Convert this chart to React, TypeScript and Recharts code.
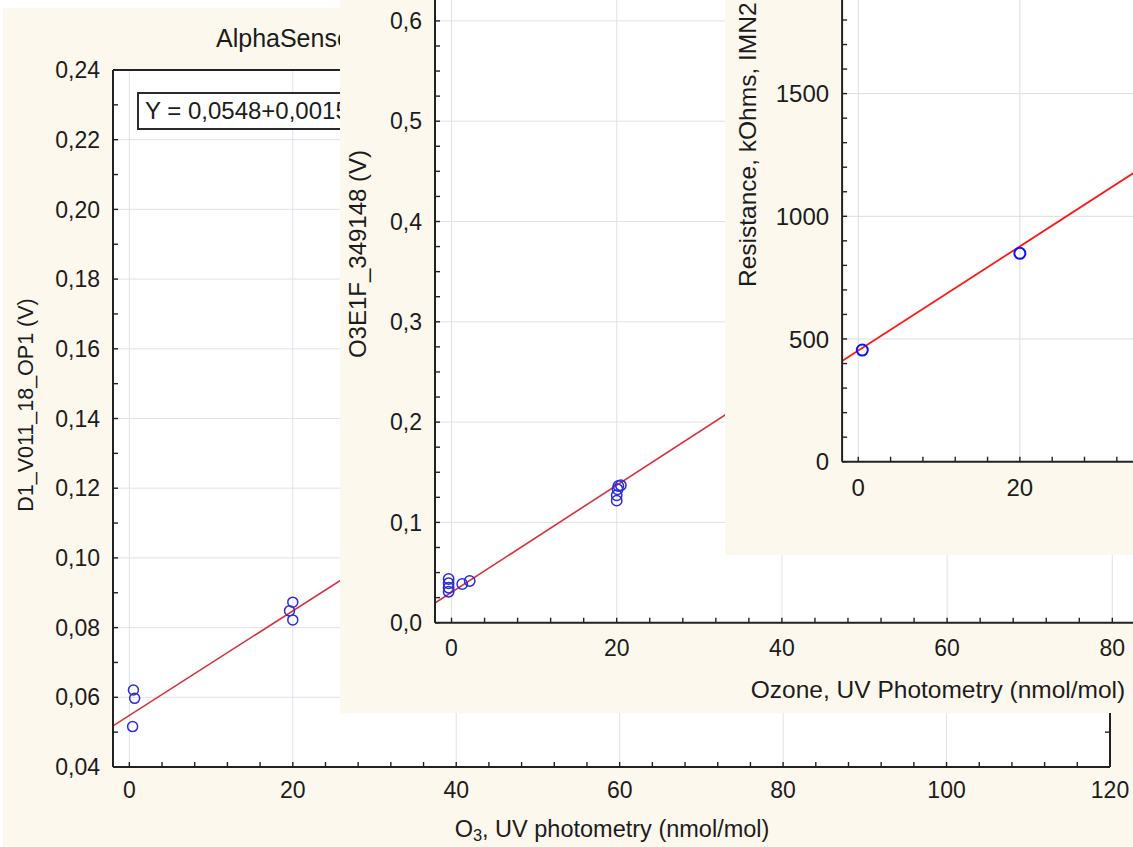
import React from 'react';
import { ScatterChart, Scatter, XAxis, YAxis, CartesianGrid, ReferenceLine } from 'recharts';

const FONT = '"Liberation Sans", Arial, Helvetica, sans-serif';
const CREAM = '#fcf8ed';
const INK = '#1c1c1c';

// ---------- Panel 1: AlphaSense ----------
const p1Title = 'AlphaSense';
const p1Equation = 'Y = 0,0548+0,0015*x';
const p1YLabel = 'D1_V011_18_OP1 (V)';
const p1X = [0.5, 0.65, 0.4, 20.0, 19.6, 20.0];
const p1Y = [0.0621, 0.0597, 0.0516, 0.0873, 0.0848, 0.0822];
const p1FitX = [-2, 120];
const p1FitY = [0.0518, 0.2348];
const p1XMajor = [0, 20, 40, 60, 80, 100, 120];
const p1YMajor = [0.04, 0.06, 0.08, 0.1, 0.12, 0.14, 0.16, 0.18, 0.2, 0.22, 0.24];

// ---------- Panel 2: O3E1F ----------
const p2XLabel = 'Ozone, UV Photometry (nmol/mol)';
const p2YLabel = 'O3E1F_349148 (V)';
const p2X = [-0.35, -0.35, -0.35, -0.35, 1.3, 2.2, 20.2, 20.5, 20.1, 20.0, 20.0];
const p2Y = [0.0436, 0.0393, 0.0349, 0.0309, 0.0386, 0.0416, 0.1363, 0.137, 0.133, 0.127, 0.1217];
const p2FitX = [-2, 120];
const p2FitY = [0.0196, 0.671];
const p2XMajor = [0, 20, 40, 60, 80];
const p2YMajor = [0, 0.1, 0.2, 0.3, 0.4, 0.5, 0.6];

// ---------- Panel 3: Resistance ----------
const p3YLabel = 'Resistance, kOhms, IMN2';
const p3X = [0.5, 20.0];
const p3Y = [455, 849];
const p3FitX = [-2, 120];
const p3FitY = [410, 3002];
const p3XMajor = [0, 20];
const p3YMajor = [0, 500, 1000, 1500];

const steps = (a: number, b: number, s: number) => {
  const out: number[] = [];
  const n = Math.round((b - a) / s);
  for (let i = 0; i <= n; i++) out.push(Math.round((a + i * s) * 1e6) / 1e6);
  return out;
};
const isIn = (v: number, arr: number[]) => arr.some((m) => Math.abs(m - v) < 1e-9);
const comma = (d: number) => (v: number) => v.toFixed(d).replace('.', ',');

type PanelProps = {
  left: number; top: number; width: number; height: number;
  plot: { l: number; t: number; r: number; b: number };
  xs: number[]; ys: number[]; fitX: number[]; fitY: number[];
  xDomain: [number, number]; yDomain: [number, number];
  xMajor: number[]; xMinor: number[]; yMajor: number[]; yMinor: number[];
  fmtY: (v: number) => string;
  fontSize: number; lineColor: string; dotColor: string; dotR: number; dotW: number;
  lineW: number; gridColor: string; frame?: boolean; xGap: number; yGap: number;
  children?: React.ReactNode;
};

const YW = 80;
const XH = 40;
const FR = 10;

function Panel(p: PanelProps) {
  const margin = {
    left: p.plot.l - YW,
    right: p.width - p.plot.r - (p.frame ? FR : 0),
    top: p.plot.t - (p.frame ? FR : 0),
    bottom: p.height - p.plot.b - XH,
  };
  const data = p.xs.map((x, i) => ({ x, y: p.ys[i] }));
  const axisLine = { stroke: '#222', strokeWidth: 2 };
  const tickLine = { stroke: '#222', strokeWidth: 1.4 };
  const xTick = (t: any) => {
    const v = t.payload?.value;
    if (!isIn(v, p.xMajor)) return <g />;
    return (
      <text x={t.x} y={t.y} dy="0.71em" textAnchor="middle" fontSize={p.fontSize} fill={INK} fontFamily={FONT}>
        {String(v)}
      </text>
    );
  };
  const yTick = (t: any) => {
    const v = t.payload?.value;
    if (!isIn(v, p.yMajor)) return <g />;
    return (
      <text x={t.x} y={t.y} dy="0.355em" textAnchor="end" fontSize={p.fontSize} fill={INK} fontFamily={FONT}>
        {p.fmtY(v)}
      </text>
    );
  };
  const gridX = p.xMajor.filter((v) => v > p.xDomain[0] && v < p.xDomain[1]);
  const gridY = p.yMajor.filter((v) => v > p.yDomain[0] && v < p.yDomain[1]);
  return (
    <div
      style={{
        position: 'absolute', left: p.left, top: p.top, width: p.width, height: p.height,
        background: CREAM, overflow: 'hidden', fontFamily: FONT, color: INK,
      }}
    >
      <ScatterChart width={p.width} height={p.height} margin={margin}>
        <CartesianGrid fill="#ffffff" fillOpacity={1} horizontal={false} vertical={false} stroke="none" />
        <XAxis
          dataKey="x" type="number" domain={p.xDomain} ticks={p.xMinor} interval={0}
          allowDataOverflow height={XH} tick={xTick}
          axisLine={axisLine} tickLine={tickLine} tickSize={-5} tickMargin={p.xGap}
        />
        <YAxis
          dataKey="y" type="number" domain={p.yDomain} ticks={p.yMinor} interval={0}
          allowDataOverflow width={YW} tick={yTick}
          axisLine={axisLine} tickLine={tickLine} tickSize={-5} tickMargin={p.yGap}
        />
        {p.frame && (
          <XAxis
            xAxisId="top" orientation="top" type="number" domain={p.xDomain} ticks={p.xMinor}
            interval={0} allowDataOverflow height={FR} tick={() => <g />}
            axisLine={axisLine} tickLine={tickLine} tickSize={-5} tickMargin={0}
          />
        )}
        {p.frame && (
          <YAxis
            yAxisId="right" orientation="right" type="number" domain={p.yDomain} ticks={p.yMinor}
            interval={0} allowDataOverflow width={FR} tick={() => <g />}
            axisLine={axisLine} tickLine={tickLine} tickSize={-5} tickMargin={0}
          />
        )}
        {gridX.map((v) => (
          <ReferenceLine key={'gx' + v} x={v} stroke={p.gridColor} strokeWidth={1} />
        ))}
        {gridY.map((v) => (
          <ReferenceLine key={'gy' + v} y={v} stroke={p.gridColor} strokeWidth={1} />
        ))}
        <ReferenceLine
          segment={[{ x: p.fitX[0], y: p.fitY[0] }, { x: p.fitX[1], y: p.fitY[1] }]}
          stroke={p.lineColor} strokeWidth={p.lineW} ifOverflow="hidden"
        />
        <Scatter
          data={data} isAnimationActive={false}
          shape={(s: any) => (
            <circle cx={s.cx} cy={s.cy} r={p.dotR} fill="none" stroke={p.dotColor} strokeWidth={p.dotW} />
          )}
        />
      </ScatterChart>
      {p.children}
    </div>
  );
}

const rotLabel = (text: React.ReactNode, cx: number, cy: number, size: number) => (
  <div
    style={{
      position: 'absolute', left: cx, top: cy, transform: 'translate(-50%, -50%) rotate(-90deg)',
      whiteSpace: 'nowrap', fontSize: size, lineHeight: 1, fontFamily: FONT, color: INK,
    }}
  >
    {text}
  </div>
);

export default function App() {
  const P1 = { left: 3, top: 8 };
  const P2 = { left: 340, top: -100 };
  const P3 = { left: 725, top: -170 };
  return (
    <div
      style={{
        position: 'absolute', left: 0, top: 0, width: 1133, height: 847, overflow: 'hidden',
        background: '#ffffff', fontFamily: FONT,
      }}
    >
      <Panel
        left={P1.left} top={P1.top} width={1140} height={839}
        plot={{ l: 110, t: 62, r: 1107, b: 759 }}
        xs={p1X} ys={p1Y} fitX={p1FitX} fitY={p1FitY}
        xDomain={[-2, 120]} yDomain={[0.04, 0.24]}
        xMajor={p1XMajor} xMinor={steps(0, 120, 4)} yMajor={p1YMajor} yMinor={steps(0.04, 0.24, 0.01)}
        fmtY={comma(2)} fontSize={23} lineColor="#d8323c" dotColor="#2d2dd6" dotR={5} dotW={1.5}
        lineW={1.6} gridColor="#dfe2ec" frame xGap={20} yGap={18}
      >
        <div
          style={{
            position: 'absolute', left: 216 - P1.left, top: 38 - P1.top, transform: 'translateY(-50%)',
            fontSize: 25, whiteSpace: 'nowrap', lineHeight: 1,
          }}
        >
          {p1Title}
        </div>
        <div
          style={{
            position: 'absolute', left: 137 - P1.left, top: 92 - P1.top, width: 420, height: 34,
            border: '2px solid #2a2a2a', background: '#ffffff', fontSize: 24, lineHeight: '34px',
            paddingLeft: 6, whiteSpace: 'nowrap', boxSizing: 'content-box',
          }}
        >
          {p1Equation}
        </div>
        {rotLabel(p1YLabel, 27 - P1.left, 405 - P1.top, 21.5)}
        <div
          style={{
            position: 'absolute', left: 612 - P1.left, top: 830 - P1.top, transform: 'translate(-50%, -50%)',
            fontSize: 23.5, whiteSpace: 'nowrap', lineHeight: 1,
          }}
        >
          O<sub style={{ fontSize: '0.7em', verticalAlign: '-0.25em', lineHeight: 0 }}>3</sub>, UV photometry (nmol/mol)
        </div>
      </Panel>

      <Panel
        left={P2.left} top={P2.top} width={1140} height={813}
        plot={{ l: 95, t: 20.6, r: 1102.7, b: 722.7 }}
        xs={p2X} ys={p2Y} fitX={p2FitX} fitY={p2FitY}
        xDomain={[-2, 120]} yDomain={[0, 0.7]}
        xMajor={p2XMajor} xMinor={steps(0, 120, 4)} yMajor={p2YMajor} yMinor={steps(0, 0.7, 0.025)}
        fmtY={comma(1)} fontSize={23} lineColor="#d8323c" dotColor="#2d2dd6" dotR={5.2} dotW={1.5}
        lineW={1.6} gridColor="#e2e2e6" xGap={22} yGap={18}
      >
        {rotLabel(p2YLabel, 358 - P2.left, 254 - P2.top, 24)}
        <div
          style={{
            position: 'absolute', left: 938 - P2.left, top: 690 - P2.top, transform: 'translate(-50%, -50%)',
            fontSize: 24.5, whiteSpace: 'nowrap', lineHeight: 1,
          }}
        >
          {p2XLabel}
        </div>
      </Panel>

      <Panel
        left={P3.left} top={P3.top} width={1140} height={725}
        plot={{ l: 117.1, t: 18.2, r: 1102.9, b: 631.7 }}
        xs={p3X} ys={p3Y} fitX={p3FitX} fitY={p3FitY}
        xDomain={[-2, 120]} yDomain={[0, 2500]}
        xMajor={p3XMajor} xMinor={steps(0, 120, 4)} yMajor={p3YMajor} yMinor={steps(0, 2500, 100)}
        fmtY={(v) => String(v)} fontSize={24} lineColor="#ff1a1a" dotColor="#1010ff" dotR={5.5} dotW={2}
        lineW={1.8} gridColor="#dddddd" xGap={22} yGap={18}
      >
        <div
          style={{
            position: 'absolute', left: 748 - P3.left - 12, top: 287 - P3.top,
            transform: 'rotate(-90deg)', transformOrigin: '0 0',
            fontSize: 24.5, whiteSpace: 'nowrap', lineHeight: '24px',
          }}
        >
          {p3YLabel}
        </div>
      </Panel>
    </div>
  );
}
